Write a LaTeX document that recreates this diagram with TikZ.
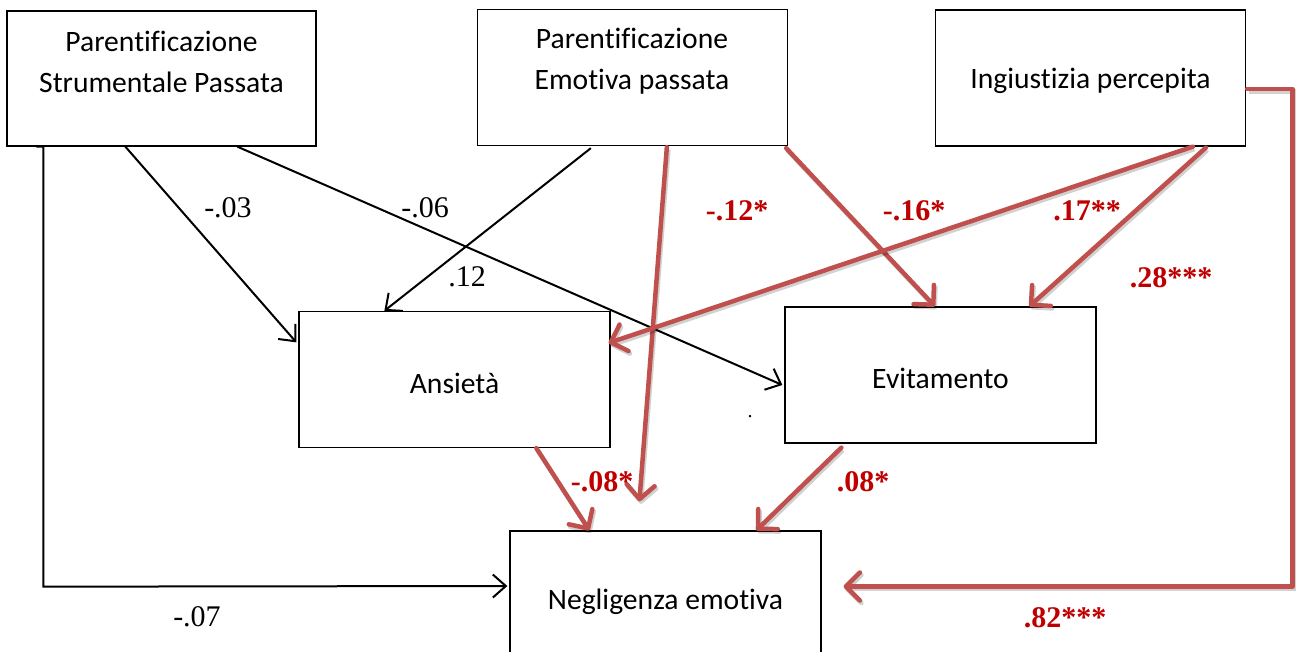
\documentclass[tikz,border=0pt]{standalone}
\usepackage{fontspec}
\setmainfont{Liberation Serif}
\newfontfamily\boxfont[Ligatures=NoCommon]{Carlito}
\usetikzlibrary{arrows.meta,calc}
\definecolor{pathred}{HTML}{C0504D}
\definecolor{coefred}{HTML}{C00000}
\tikzset{
  varbox/.style={draw=black, line width=1.3pt, fill=white, rectangle, inner sep=0pt,
    minimum width=310pt, minimum height=136pt},
  boxtext/.style={font=\boxfont\fontsize{29.6}{41}\selectfont, align=center, inner sep=0pt},
  blackpath/.style={draw=black, line width=2pt, line join=miter,
    -{Straight Barb[length=13pt,width=23pt]}},
  redpath/.style={draw=pathred, line width=4.5pt, line cap=round, line join=round,
    -{Straight Barb[length=14pt,width=28pt,round]},
    preaction={draw=black, opacity=0.18, line width=4.5pt,
      transform canvas={shift={(1.5pt,-2.5pt)}}}},
  coef/.style={font=\fontsize{30}{30}\selectfont, inner sep=0pt},
  redcoef/.style={font=\fontsize{30}{30}\selectfont\bfseries, text=coefred, inner sep=0pt}
}
\begin{document}
\begin{tikzpicture}[x=1pt,y=-1pt]
\useasboundingbox (0,0) rectangle (1297,651);
\fill[white] (0,0) rectangle (1297,651);
\clip (0,0) rectangle (1297,651);

% variables
\node[varbox, minimum width=309pt, minimum height=135pt] (A) at (161.5,78.5) {};
\node[varbox] (B) at (632.5,77.5) {};
\node[varbox] (C) at (1090.5,78) {};
\node[varbox, minimum width=311pt] (Ans) at (454.5,379.5) {};
\node[varbox, minimum width=311pt] (Evi) at (940.5,375) {};
\node[varbox, minimum width=311pt] (N) at (665.5,599) {};

\node[boxtext] (At) at (161.5,61.5) {Parentificazione\\Strumentale Passata};
\node[boxtext] (Bt) at (632,61) {Parentificazione\\Emotiva passata};
\node[boxtext] (Ct) at (1090.5,81) {Ingiustizia percepita};
\node[boxtext] (Anst) at (454.5,383) {Ansietà};
\node[boxtext] (Evit) at (940.5,378) {Evitamento};
\node[boxtext] (Nt) at (665.5,602) {Negligenza emotiva};
\node[coef, font=\fontsize{20}{20}\selectfont] (dot) at (750,417) {.};

% non-significant paths
\draw[blackpath] ($(A.south west)+(119,0)$) -- ($(Ans.north west)+(-2,31.5)$);
\draw[blackpath] ($(A.south west)+(231,0)$) -- ($(Evi.west)+(-2,10)$);
\draw[blackpath] ($(B.south west)+(114,2)$) -- ($(Ans.north west)+(86,0)$);
\coordinate (hook) at ($(A.south west)+(30,0)$);
\coordinate (corner) at ($(A.south west)+(37,440)$);
\draw[blackpath] (hook) -- ++(7,0) -- (corner) -- ($(N.west)+(-2,-13)$);

% significant paths
\draw[redpath] ($(B.south west)+(190,1)$) -- ($(N.north west)+(130,-29)$);
\draw[redpath] ($(B.south east)+(-2,2)$) -- ($(Evi.north west)+(150.5,0)$);
\draw[redpath] ($(C.south west)+(258,0)$) -- ($(Ans.east)+(-2,-36.5)$);
\draw[redpath] ($(C.south west)+(271,1)$) -- ($(Evi.north west)+(245,0)$);
\coordinate (rtop) at (1292.5,89);
\coordinate (rbot) at (1292.5,586.5);
\draw[redpath] ($(C.east)+(1,11)$) -- (rtop) -- (rbot) -- ($(N.east)+(22,-12.5)$);
\draw[redpath] ($(Ans.south west)+(238,0)$) -- ($(N.north west)+(80,0)$);
\draw[redpath] ($(Evi.south west)+(57,4)$) -- ($(N.north west)+(247,0)$);

% coefficients
\node[coef] (c1) at (228,208) {-.03};
\node[coef] (c2) at (425,208) {-.06};
\node[coef] (c3) at (467,277) {.12};
\node[coef] (c4) at (197,617) {-.07};
\node[redcoef] (r1) at (737,211) {-.12*};
\node[redcoef] (r2) at (914,211) {-.16*};
\node[redcoef] (r3) at (1087,211) {.17**};
\node[redcoef] (r4) at (1171,278) {.28***};
\node[redcoef] (r5) at (602,482) {-.08*};
\node[redcoef] (r6) at (863,482) {.08*};
\node[redcoef] (r7) at (1065,618) {.82***};
\end{tikzpicture}
\end{document}
